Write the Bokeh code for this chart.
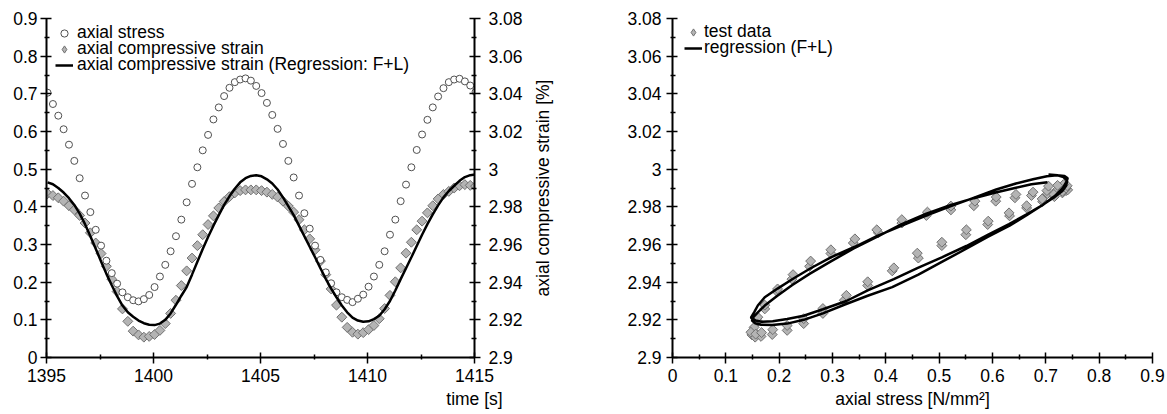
import numpy as np
from bokeh.plotting import figure
from bokeh.models import (Range1d, LinearAxis, FixedTicker, CustomJSTickFormatter,
                          Legend, LegendItem, ColumnDataSource)
from bokeh.layouts import row
from bokeh.embed import file_html
from bokeh.resources import INLINE

# ---------------- data ----------------
time_s = [1395.05, 1395.3, 1395.55, 1395.8, 1396.05, 1396.3, 1396.55, 1396.8, 1397.05, 1397.3,
          1397.55, 1397.8, 1398.05, 1398.3, 1398.55, 1398.8, 1399.05, 1399.3, 1399.55, 1399.8,
          1400.05, 1400.3, 1400.55, 1400.8, 1401.05, 1401.3, 1401.55, 1401.8, 1402.05, 1402.3,
          1402.55, 1402.8, 1403.05, 1403.3, 1403.55, 1403.8, 1404.05, 1404.3, 1404.55, 1404.8,
          1405.05, 1405.3, 1405.55, 1405.8, 1406.05, 1406.3, 1406.55, 1406.8, 1407.05, 1407.3,
          1407.55, 1407.8, 1408.05, 1408.3, 1408.55, 1408.8, 1409.05, 1409.3, 1409.55, 1409.8,
          1410.05, 1410.3, 1410.55, 1410.8, 1411.05, 1411.3, 1411.55, 1411.8, 1412.05, 1412.3,
          1412.55, 1412.8, 1413.05, 1413.3, 1413.55, 1413.8, 1414.05, 1414.3, 1414.55, 1414.8,
          1415.05]

axial_stress = [0.703, 0.673, 0.642, 0.606, 0.565, 0.522, 0.476, 0.430, 0.386, 0.339,
                0.297, 0.257, 0.224, 0.196, 0.173, 0.160, 0.152, 0.149, 0.155, 0.166,
                0.187, 0.215, 0.246, 0.282, 0.322, 0.366, 0.412, 0.461, 0.505, 0.550,
                0.591, 0.632, 0.664, 0.694, 0.716, 0.731, 0.738, 0.741, 0.735, 0.721,
                0.702, 0.676, 0.644, 0.607, 0.567, 0.522, 0.478, 0.430, 0.383, 0.342,
                0.297, 0.259, 0.226, 0.197, 0.173, 0.160, 0.153, 0.147, 0.156, 0.167,
                0.188, 0.215, 0.246, 0.282, 0.326, 0.366, 0.415, 0.459, 0.505, 0.551,
                0.592, 0.631, 0.664, 0.693, 0.715, 0.731, 0.738, 0.740, 0.733, 0.722,
                0.705]

axial_strain = [2.9870, 2.9860, 2.9848, 2.9830, 2.9806, 2.9784, 2.9754, 2.9714, 2.9662, 2.9608,
                2.9552, 2.9484, 2.9416, 2.9350, 2.9258, 2.9192, 2.9140, 2.9120, 2.9108, 2.9112,
                2.9122, 2.9144, 2.9180, 2.9234, 2.9304, 2.9382, 2.9460, 2.9528, 2.9594, 2.9652,
                2.9706, 2.9752, 2.9794, 2.9828, 2.9854, 2.9874, 2.9886, 2.9890, 2.9890, 2.9890,
                2.9886, 2.9878, 2.9866, 2.9852, 2.9830, 2.9804, 2.9772, 2.9732, 2.9678, 2.9630,
                2.9572, 2.9512, 2.9440, 2.9364, 2.9278, 2.9214, 2.9160, 2.9134, 2.9124, 2.9132,
                2.9148, 2.9170, 2.9206, 2.9260, 2.9330, 2.9402, 2.9476, 2.9554, 2.9612, 2.9678,
                2.9724, 2.9768, 2.9806, 2.9842, 2.9866, 2.9882, 2.9900, 2.9912, 2.9918, 2.9914,
                2.9910]

strain_regression = [2.9930, 2.9920, 2.9900, 2.9876, 2.9846, 2.9810, 2.9764, 2.9708, 2.9644, 2.9578,
                     2.9510, 2.9444, 2.9384, 2.9326, 2.9276, 2.9240, 2.9216, 2.9196, 2.9182, 2.9174,
                     2.9172, 2.9180, 2.9200, 2.9234, 2.9280, 2.9328, 2.9374, 2.9440, 2.9508, 2.9576,
                     2.9640, 2.9700, 2.9756, 2.9810, 2.9856, 2.9896, 2.9930, 2.9952, 2.9964, 2.9968,
                     2.9962, 2.9946, 2.9924, 2.9892, 2.9850, 2.9804, 2.9756, 2.9700, 2.9644, 2.9588,
                     2.9532, 2.9474, 2.9418, 2.9366, 2.9320, 2.9276, 2.9240, 2.9212, 2.9196, 2.9190,
                     2.9192, 2.9204, 2.9222, 2.9256, 2.9300, 2.9356, 2.9416, 2.9474, 2.9532, 2.9592,
                     2.9652, 2.9708, 2.9760, 2.9808, 2.9850, 2.9884, 2.9912, 2.9938, 2.9958, 2.9968,
                     2.9972]

src = ColumnDataSource(dict(t=time_s, stress=axial_stress, strain=axial_strain, reg=strain_regression))

FONT = "Liberation Sans"
FS = "17.5px"
DIA_FILL = "#b4b4b4"
DIA_LINE = "#707070"
CIRC_LINE = "#505050"

fmt = CustomJSTickFormatter(code="""
let s = tick.toFixed(2);
s = s.replace(/0+$/, '');
s = s.replace(/\\.$/, '');
return s;
""")


def ticks(a, b, step):
    return [round(v, 4) for v in np.arange(a, b + step / 2, step)]


def style_axis(ax, major, minor, standoff):
    ax.ticker = FixedTicker(ticks=major, minor_ticks=minor)
    ax.formatter = fmt
    ax.axis_line_color = "black"
    ax.axis_line_width = 2
    ax.major_tick_line_color = "black"
    ax.major_tick_line_width = 1.5
    ax.minor_tick_line_color = "black"
    ax.minor_tick_line_width = 1.5
    ax.major_tick_in = 5
    ax.major_tick_out = 6
    ax.minor_tick_in = 3
    ax.minor_tick_out = 2
    ax.major_label_standoff = standoff
    ax.major_label_text_font = FONT
    ax.major_label_text_font_size = FS
    ax.major_label_text_color = "black"
    ax.axis_label_text_font = FONT
    ax.axis_label_text_font_size = FS
    ax.axis_label_text_font_style = "normal"
    ax.axis_label_text_color = "black"


def add_legend_row(p, label, renderer, x, y, standoff):
    # one legend per row so the rows can sit as tightly as in the original
    leg = Legend(items=[LegendItem(label=label, renderers=[renderer])], location=(x, y))
    leg.border_line_color = None
    leg.background_fill_alpha = 0
    leg.label_text_font = FONT
    leg.label_text_font_size = FS
    leg.label_text_color = "black"
    leg.glyph_width = 18
    leg.glyph_height = 20
    leg.label_height = 15
    leg.spacing = 0
    leg.padding = 0
    leg.margin = 0
    leg.label_standoff = standoff
    p.add_layout(leg)


# ---------------- left: time series ----------------
p1 = figure(frame_width=428, frame_height=339, min_border_left=46, min_border_right=55,
            min_border_top=18, min_border_bottom=56,
            x_range=Range1d(1395, 1415), y_range=Range1d(0, 0.9),
            output_backend="svg", toolbar_location=None)
p1.extra_y_ranges = {"strain": Range1d(2.9, 3.08)}
p1.outline_line_color = None
p1.xgrid.visible = False
p1.ygrid.visible = False

r_dia = p1.scatter("t", "strain", source=src, y_range_name="strain", marker="square", angle=np.pi / 4,
                   size=7, fill_color=DIA_FILL, line_color=DIA_LINE, line_width=1)
r_circ = p1.scatter("t", "stress", source=src, marker="circle", size=7,
                    fill_color="white", line_color=CIRC_LINE, line_width=1)
r_line = p1.line("t", "reg", source=src, y_range_name="strain", line_color="black", line_width=2.5)
# legend-only glyph (legend markers are drawn unrotated); NaN data draws nothing in the plot
r_dia_leg = p1.scatter(x=[np.nan], y=[np.nan], marker="diamond", size=8,
                       fill_color=DIA_FILL, line_color=DIA_LINE, line_width=1)

style_axis(p1.xaxis[0], ticks(1395, 1415, 5), ticks(1397.5, 1412.5, 5), 5)
p1.xaxis[0].axis_label = "time [s]"
p1.xaxis[0].axis_label_align = "end"
p1.xaxis[0].axis_label_standoff = 4
style_axis(p1.yaxis[0], ticks(0, 0.9, 0.1), ticks(0.05, 0.85, 0.1), 3)

ax_r = LinearAxis(y_range_name="strain")
p1.add_layout(ax_r, "right")
style_axis(ax_r, ticks(2.9, 3.08, 0.02), ticks(2.91, 3.07, 0.02), 8)

add_legend_row(p1, "axial stress", r_circ, 9, 314, 4)
add_legend_row(p1, "axial compressive strain", r_dia_leg, 9, 298, 4)
add_legend_row(p1, "axial compressive strain (Regression: F+L)", r_line, 9, 282, 4)

# ---------------- right: strain vs stress ----------------
p2 = figure(frame_width=480, frame_height=339, min_border_left=141, min_border_right=16,
            min_border_top=18, min_border_bottom=56,
            x_range=Range1d(0, 0.9), y_range=Range1d(2.9, 3.08),
            output_backend="svg", toolbar_location=None)
p2.outline_line_color = None
p2.xgrid.visible = False
p2.ygrid.visible = False

r2_dia = p2.scatter("stress", "strain", source=src, marker="square", angle=np.pi / 4,
                    size=7, fill_color=DIA_FILL, line_color=DIA_LINE, line_width=1)
r2_line = p2.line("stress", "reg", source=src, line_color="black", line_width=2.5)
r2_dia_leg = p2.scatter(x=[np.nan], y=[np.nan], marker="diamond", size=8,
                        fill_color=DIA_FILL, line_color=DIA_LINE, line_width=1)

style_axis(p2.xaxis[0], ticks(0, 0.9, 0.1), ticks(0.05, 0.85, 0.1), 5)
p2.xaxis[0].axis_label = "axial stress [N/mm²]"
p2.xaxis[0].axis_label_standoff = 4
style_axis(p2.yaxis[0], ticks(2.9, 3.08, 0.02), ticks(2.91, 3.07, 0.02), 5)

# title of the left chart's right-hand axis (reads bottom-to-top), carried by an
# outer, tick-less axis of the neighbouring figure so it sits just right of the strain ticks
ax_title = LinearAxis(ticker=FixedTicker(ticks=[]), axis_label="axial compressive strain [%]")
ax_title.axis_line_color = None
ax_title.major_tick_line_color = None
ax_title.minor_tick_line_color = None
ax_title.axis_label_text_font = FONT
ax_title.axis_label_text_font_size = FS
ax_title.axis_label_text_font_style = "normal"
ax_title.axis_label_text_color = "black"
ax_title.axis_label_standoff = 72
p2.add_layout(ax_title, "left")

add_legend_row(p2, "test data", r2_dia_leg, 12, 315, 2)
add_legend_row(p2, "regression (F+L)", r2_line, 12, 299, 2)

layout = row(p1, p2)
open("out.html", "w").write(file_html(layout, INLINE))
